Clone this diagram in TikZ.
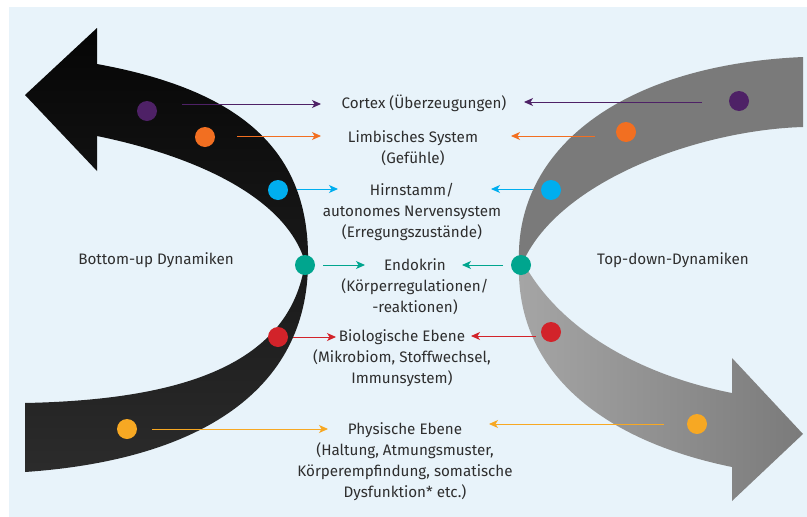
\documentclass[tikz,border=0pt]{standalone}
\usepackage{fontspec}
\setmainfont{Fira Sans}
\usetikzlibrary{arrows.meta}
\definecolor{bgblue}{HTML}{E8F3FA}
\definecolor{txt}{HTML}{2E2E2E}
\definecolor{cpurple}{HTML}{4E2166}
\definecolor{corange}{HTML}{F26F21}
\definecolor{cblue}{HTML}{00AEEF}
\definecolor{cteal}{HTML}{00A58E}
\definecolor{cred}{HTML}{D2232A}
\definecolor{cyellow}{HTML}{F7A823}
\tikzset{
  dot/.style={circle, inner sep=0pt, minimum size=20pt, draw=none},
  lbl/.style={font=\fontsize{15.2}{21}\selectfont, text=txt, align=center, inner sep=0pt},
  conn/.style={line width=1pt, -{Stealth[length=9pt,width=8pt,inset=2.5pt]}},
}
\begin{document}
\begin{tikzpicture}[x=1pt,y=-1pt]
\useasboundingbox (0,0) rectangle (807,517);
\fill[white] (0,0) rectangle (807,517);
\fill[bgblue] (9,7) rectangle (807,517);

% left black arrow (bottom-up)
\path[top color=black!98, bottom color=black!83]
  (25,403) -- (25,472)
  .. controls (200,460) and (308,390) .. (308,262)
  .. controls (310,150) and (240,90) .. (97,64)
  -- (97,28) -- (25,95) -- (97,171) -- (97,136)
  .. controls (190,155) and (285,195) .. (305,262)
  .. controls (290,370) and (170,400) .. (25,403) -- cycle;

% right gray arrow (top-down), upper part
\fill[black!52]
  (803,57) -- (803,127)
  .. controls (700,130) and (560,180) .. (523,262)
  -- (519,262)
  .. controls (515,150) and (620,65) .. (803,57) -- cycle;
% lower part
\path[left color=black!35, right color=black!52]
  (523,262) .. controls (560,330) and (640,375) .. (732,393)
  -- (732,358) -- (803,434) -- (732,501) -- (732,467)
  .. controls (600,440) and (515,370) .. (519,262) -- cycle;

% dots left
\node[dot, fill=cpurple] (lp) at (147,111) {};
\node[dot, fill=corange] (lo) at (205,137) {};
\node[dot, fill=cblue] (lb) at (278,190) {};
\node[dot, fill=cteal] (lt) at (305,265) {};
\node[dot, fill=cred] (lr) at (278,337) {};
\node[dot, fill=cyellow] (ly) at (127,429) {};
% dots right
\node[dot, fill=cpurple] (rp) at (739,101) {};
\node[dot, fill=corange] (ro) at (626,132) {};
\node[dot, fill=cblue] (rb) at (551,190) {};
\node[dot, fill=cteal] (rt) at (521,265) {};
\node[dot, fill=cred] (rr) at (551,332) {};
\node[dot, fill=cyellow] (ry) at (697,424) {};

% labels
\node[lbl] (cortex) at (424,103) {Cortex (Überzeugungen)};
\node[lbl] (limb) at (413,148) {Limbisches System\\(Gefühle)};
\node[lbl] (hirn) at (412,211.5) {Hirnstamm/\\autonomes Nervensystem\\(Erregungszustände)};
\node[lbl] (endo) at (415,286.5) {Endokrin\\(Körperregulationen/\\-reaktionen)};
\node[lbl] (bio) at (402,358.5) {Biologische Ebene\\(Mikrobiom, Stoffwechsel,\\Immunsystem)};
\node[lbl] (phys) at (405,461.5) {Physische Ebene\\(Haltung, Atmungsmuster,\\Körperempfindung, somatische\\Dysfunktion* etc.)};
\node[lbl] (bu) at (156,260) {Bottom-up Dynamiken};
\node[lbl] (td) at (673,260) {Top-down-Dynamiken};

% connector end points
\coordinate (lp1) at (182,104); \coordinate (lp2) at (321,104);
\coordinate (lo1) at (237,136); \coordinate (lo2) at (321,136);
\coordinate (lb1) at (297,189); \coordinate (lb2) at (338,189);
\coordinate (lt1) at (323,265); \coordinate (lt2) at (365,265);
\coordinate (lr1) at (293,337); \coordinate (lr2) at (336,337);
\coordinate (ly1) at (152,429); \coordinate (ly2) at (328,429);
\coordinate (rp1) at (702,102); \coordinate (rp2) at (524,102);
\coordinate (ro1) at (595,136); \coordinate (ro2) at (511,136);
\coordinate (rb1) at (533,189); \coordinate (rb2) at (491,189);
\coordinate (rt1) at (503,265); \coordinate (rt2) at (462,265);
\coordinate (rr1) at (536,336); \coordinate (rr2) at (471,336);
\coordinate (ry1) at (664,424); \coordinate (ry2) at (489,424);

\draw[conn, cpurple] (lp1) -- (lp2);
\draw[conn, corange] (lo1) -- (lo2);
\draw[conn, cblue] (lb1) -- (lb2);
\draw[conn, cteal] (lt1) -- (lt2);
\draw[conn, cred] (lr1) -- (lr2);
\draw[conn, cyellow] (ly1) -- (ly2);
\draw[conn, cpurple] (rp1) -- (rp2);
\draw[conn, corange] (ro1) -- (ro2);
\draw[conn, cblue] (rb1) -- (rb2);
\draw[conn, cteal] (rt1) -- (rt2);
\draw[conn, cred] (rr1) -- (rr2);
\draw[conn, cyellow] (ry1) -- (ry2);
\end{tikzpicture}
\end{document}
